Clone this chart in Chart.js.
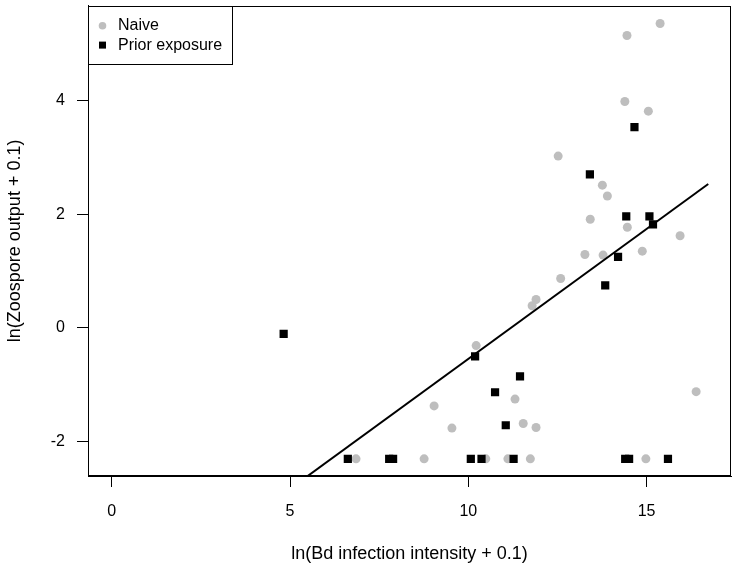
<!DOCTYPE html>
<html>
<head>
<meta charset="utf-8">
<script src="https://cdn.jsdelivr.net/npm/chart.js@4"></script>
<style>
  html, body { margin: 0; padding: 0; background: #fff; }
  #myChart { display: block; }
</style>
</head>
<body>
<canvas id="myChart" width="737" height="568"></canvas>
<script>
// Naive animals (grey circles)
const naiveX = [15.38, 14.45, 14.39, 15.05, 12.52, 13.76, 13.90, 13.42, 14.46, 15.94,
                13.27, 13.78, 14.88, 12.59, 11.90, 11.79, 10.22, 9.04, 9.54, 11.31,
                16.39, 11.54, 11.90, 6.85, 8.76, 10.49, 11.11, 11.74, 14.98];
const naiveY = [5.35, 5.14, 3.98, 3.81, 3.02, 2.51, 2.32, 1.91, 1.77, 1.62,
                1.29, 1.28, 1.35, 0.87, 0.50, 0.39, -0.31, -1.37, -1.76, -1.25,
                -1.12, -1.68, -1.75, -2.30, -2.30, -2.30, -2.30, -2.30, -2.30];

// Prior exposure (black squares)
const priorX = [14.66, 13.41, 14.43, 15.08, 15.18, 14.20, 13.84, 4.82, 10.19, 11.45,
                10.75, 11.05, 6.62, 7.78, 7.89, 10.07, 10.37, 11.27, 14.40, 14.51, 15.60];
const priorY = [3.53, 2.70, 1.96, 1.96, 1.82, 1.25, 0.75, -0.105, -0.50, -0.85,
                -1.13, -1.71, -2.30, -2.30, -2.30, -2.30, -2.30, -2.30, -2.30, -2.30, -2.30];

// fitted regression line (end points)
const fitX = [4.82, 16.73];
const fitY = [-2.91, 2.53];

const xTicks = [0, 5, 10, 15];
const yTicks = [-2, 0, 2, 4];

const FONT = '"Liberation Sans", Arial, sans-serif';

const toPts = (xs, ys) => xs.map((x, i) => ({ x: x, y: ys[i] }));

// draws the box round the plot and the legend in the top left corner
const boxPlugin = {
    id: 'rbox',
    afterDraw(chart) {
        const ctx = chart.ctx;
        const a = chart.chartArea;
        ctx.save();
        ctx.strokeStyle = '#000';
        ctx.lineWidth = 1;
        ctx.strokeRect(Math.round(a.left) + 0.5, Math.round(a.top) + 0.5,
            Math.round(a.right - a.left) - 1, Math.round(a.bottom - a.top) - 1);

        // legend
        const items = chart.data.datasets
            .filter(d => d.legendRank !== undefined)
            .sort((p, q) => p.legendRank - q.legendRank);
        const lx = Math.round(a.left) + 0.5, ly = Math.round(a.top) + 0.5;
        ctx.fillStyle = '#fff';
        ctx.fillRect(lx, ly, 144, 58);
        ctx.strokeRect(lx, ly, 144, 58);
        ctx.font = '16px ' + FONT;
        ctx.textBaseline = 'middle';
        ctx.textAlign = 'left';
        items.forEach((d, i) => {
            const cy = a.top + 20 + i * 19.3;
            ctx.fillStyle = d.backgroundColor;
            if (d.pointStyle === 'rect') {
                ctx.fillRect(a.left + 11, cy - 3.5, 7, 7);
            } else {
                ctx.beginPath();
                ctx.arc(a.left + 14.5, cy, 3.8, 0, Math.PI * 2);
                ctx.fill();
            }
            ctx.fillStyle = '#000';
            ctx.fillText(d.label, a.left + 30, cy);
        });
        ctx.restore();
    }
};

const ctx = document.getElementById('myChart').getContext('2d');

const myChart = new Chart(ctx, {
    type: 'scatter',
    data: {
        datasets: [
            {
                type: 'line',
                label: 'fit',
                data: toPts(fitX, fitY),
                borderColor: '#000',
                borderWidth: 2,
                pointRadius: 0,
                fill: false,
                order: 0
            },
            {
                label: 'Prior exposure',
                legendRank: 1,
                data: toPts(priorX, priorY),
                pointStyle: 'rect',
                pointRadius: 5.8,
                backgroundColor: '#000000',
                borderWidth: 0,
                order: 1
            },
            {
                label: 'Naive',
                legendRank: 0,
                data: toPts(naiveX, naiveY),
                pointStyle: 'circle',
                pointRadius: 4.5,
                backgroundColor: '#BEBEBE',
                borderWidth: 0,
                order: 2
            }
        ]
    },
    options: {
        responsive: false,
        animation: false,
        devicePixelRatio: 1,
        layout: {
            padding: { top: 5, right: 6, left: 0, bottom: 0 }
        },
        plugins: {
            legend: { display: false },
            tooltip: { enabled: false }
        },
        scales: {
            x: {
                type: 'linear',
                min: -0.668,
                max: 17.368,
                afterBuildTicks: (scale) => { scale.ticks = xTicks.map(v => ({ value: v })); },
                afterFit: (scale) => {
                    scale.height = 92;
                    scale.paddingLeft = 0;
                    scale.paddingRight = 0;
                },
                grid: {
                    drawOnChartArea: false,
                    tickLength: 11,
                    color: '#000'
                },
                border: { display: true, color: '#000' },
                ticks: {
                    color: '#000',
                    padding: 15,
                    maxRotation: 0,
                    autoSkip: false,
                    font: { family: FONT, size: 16 }
                },
                title: {
                    display: true,
                    text: 'ln(Bd infection intensity + 0.1)',
                    color: '#000',
                    font: { family: FONT, size: 18 },
                    padding: { top: 0, bottom: 3 }
                }
            },
            y: {
                type: 'linear',
                min: -2.602,
                max: 5.662,
                afterBuildTicks: (scale) => { scale.ticks = yTicks.map(v => ({ value: v })); },
                afterFit: (scale) => {
                    scale.width = 88;
                    scale.paddingTop = 0;
                    scale.paddingBottom = 0;
                },
                grid: {
                    drawOnChartArea: false,
                    tickLength: 11,
                    color: '#000'
                },
                border: { display: true, color: '#000' },
                ticks: {
                    color: '#000',
                    padding: 12,
                    autoSkip: false,
                    font: { family: FONT, size: 16 }
                },
                title: {
                    display: true,
                    text: 'ln(Zoospore output + 0.1)',
                    color: '#000',
                    font: { family: FONT, size: 18 },
                    padding: { top: 4, bottom: 0 }
                }
            }
        }
    },
    plugins: [boxPlugin]
});
</script>
</body>
</html>
